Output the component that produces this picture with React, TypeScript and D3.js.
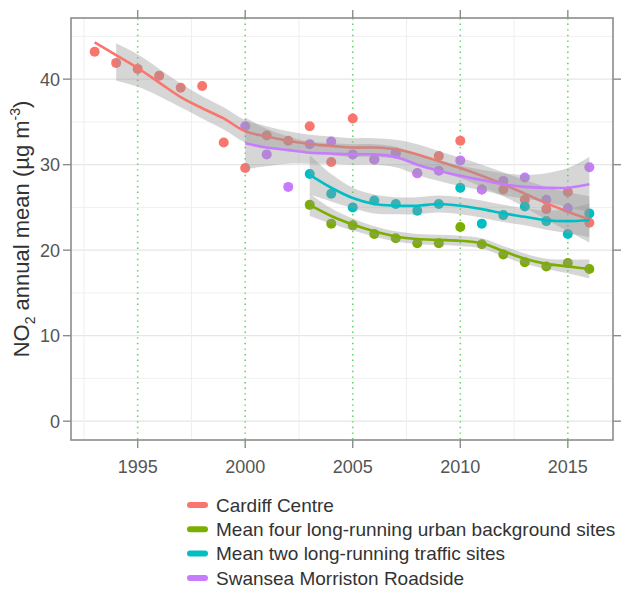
import React from "react";
import * as d3 from "d3";

// ---------- data ----------
const cardiffYears = [1993, 1994, 1995, 1996, 1997, 1998, 1999, 2000, 2001, 2002, 2003, 2004, 2005, 2006, 2007, 2008, 2009, 2010, 2011, 2012, 2013, 2014, 2015, 2016];
const cardiffNO2 = [43.2, 41.9, 41.2, 40.4, 39.0, 39.2, 32.6, 29.6, 33.4, 32.8, 34.5, 30.3, 35.4, 30.6, 31.4, 29.0, 31.0, 32.8, 27.1, 27.1, 25.9, 24.8, 26.8, 23.2];

const swanseaYears = [2000, 2001, 2002, 2003, 2004, 2005, 2006, 2007, 2008, 2009, 2010, 2011, 2012, 2013, 2014, 2015, 2016];
const swanseaNO2 = [34.5, 31.2, 27.4, 32.4, 32.7, 31.2, 30.6, 31.3, 29.0, 29.3, 30.5, 27.1, 28.1, 28.5, 25.9, 24.9, 29.7];

const meanYears = [2003, 2004, 2005, 2006, 2007, 2008, 2009, 2010, 2011, 2012, 2013, 2014, 2015, 2016];
const trafficNO2 = [28.9, 26.6, 25.0, 25.8, 25.4, 24.6, 25.4, 27.3, 23.1, 24.1, 25.1, 23.4, 21.9, 24.3];
const backgroundNO2 = [25.3, 23.1, 22.9, 21.9, 21.4, 20.8, 20.8, 22.7, 20.7, 19.5, 18.6, 18.1, 18.5, 17.8];

// smoothed fits (loess) and half-widths of the confidence bands
const cardiffFit = [44.3, 42.8, 41.3, 39.6, 37.9, 36.6, 35.4, 33.9, 33.3, 32.8, 32.4, 32.2, 32.0, 32.0, 31.8, 31.2, 30.4, 29.6, 28.7, 27.7, 26.6, 25.5, 24.5, 23.6];
const cardiffBandYears = [1994, 1995, 1996, 1997, 1998, 1999, 2000, 2001, 2002, 2003, 2004, 2005, 2006, 2007, 2008, 2009, 2010, 2011, 2012, 2013, 2014, 2015, 2016];
const cardiffBandFit = [42.0, 41.0, 39.6, 38.1, 36.7, 35.4, 33.9, 33.3, 32.8, 32.4, 32.2, 32.0, 32.0, 31.8, 31.2, 30.4, 29.6, 28.7, 27.7, 26.6, 25.5, 24.5, 23.6];
const cardiffSE = [2.2, 1.9, 1.6, 1.4, 1.3, 1.3, 1.3, 1.2, 1.1, 1.1, 1.1, 1.1, 1.1, 1.1, 1.2, 1.2, 1.2, 1.3, 1.4, 1.6, 1.9, 2.3, 2.7];

const swanseaFit = [32.5, 32.0, 31.7, 31.4, 31.3, 31.2, 31.2, 30.9, 30.0, 29.3, 28.7, 28.2, 27.7, 27.4, 27.3, 27.3, 27.7];
const swanseaSE = [3.0, 2.2, 1.6, 1.3, 1.2, 1.2, 1.2, 1.2, 1.2, 1.2, 1.2, 1.2, 1.3, 1.4, 1.7, 2.3, 3.2];

const trafficFit = [28.8, 27.3, 26.1, 25.4, 25.2, 25.2, 25.4, 25.2, 24.8, 24.3, 23.9, 23.5, 23.4, 23.5];
const trafficSE = [2.3, 1.6, 1.2, 1.1, 1.0, 1.0, 1.0, 1.0, 1.0, 1.0, 1.0, 1.1, 1.4, 2.0];

const backgroundFit = [25.3, 24.0, 23.0, 22.2, 21.6, 21.3, 21.2, 21.1, 20.8, 19.9, 19.0, 18.4, 18.1, 17.8];
const backgroundSE = [1.3, 0.9, 0.7, 0.6, 0.6, 0.6, 0.6, 0.6, 0.6, 0.6, 0.6, 0.6, 0.8, 1.1];

const xTicks = [1995, 2000, 2005, 2010, 2015];
const xMinor = [1992.5, 1997.5, 2002.5, 2007.5, 2012.5, 2017.5];
const yTicks = [0, 10, 20, 30, 40];
const yMinor = [5, 15, 25, 35, 45];

const seriesNames = [
  "Cardiff Centre",
  "Mean four long-running urban background sites",
  "Mean two long-running traffic sites",
  "Swansea Morriston Roadside",
];
const seriesColors = ["#F8766D", "#7CAE00", "#00BFC4", "#C77CFF"];

// ---------- layout ----------
const W = 625;
const H = 589;
const left = 71;
const right = 613;
const top = 18;
const bottom = 440;

const x = d3.scaleLinear().domain([1991.9, 2017.1]).range([left, right]);
const y = d3.scaleLinear().domain([-2.2, 47.15]).range([bottom, top]);

const font = "'Liberation Sans', Arial, Helvetica, sans-serif";

type P = { x: number; y: number };
const zip = (xs: number[], ys: number[]): P[] => xs.map((v, i) => ({ x: v, y: ys[i] }));

const lineGen = d3
  .line<P>()
  .x((d) => x(d.x))
  .y((d) => y(d.y))
  .curve(d3.curveCatmullRom.alpha(0.5));

type B = { x: number; lo: number; hi: number };
const areaGen = d3
  .area<B>()
  .x((d) => x(d.x))
  .y0((d) => y(d.lo))
  .y1((d) => y(d.hi))
  .curve(d3.curveCatmullRom.alpha(0.5));
const band = (xs: number[], fit: number[], se: number[]): B[] =>
  xs.map((v, i) => ({ x: v, lo: fit[i] - se[i], hi: fit[i] + se[i] }));

const points = [
  { data: zip(cardiffYears, cardiffNO2), color: seriesColors[0] },
  { data: zip(meanYears, backgroundNO2), color: seriesColors[1] },
  { data: zip(meanYears, trafficNO2), color: seriesColors[2] },
  { data: zip(swanseaYears, swanseaNO2), color: seriesColors[3] },
];

const smooths = [
  { line: zip(cardiffYears, cardiffFit), band: band(cardiffBandYears, cardiffBandFit, cardiffSE), color: seriesColors[0] },
  { line: zip(meanYears, backgroundFit), band: band(meanYears, backgroundFit, backgroundSE), color: seriesColors[1] },
  { line: zip(meanYears, trafficFit), band: band(meanYears, trafficFit, trafficSE), color: seriesColors[2] },
  { line: zip(swanseaYears, swanseaFit), band: band(swanseaYears, swanseaFit, swanseaSE), color: seriesColors[3] },
];

export default function App() {
  const axisColor = "#8c8c8c";
  const tickLen = 8;
  return (
    <svg
      width={W}
      height={H}
      viewBox={`0 0 ${W} ${H}`}
      style={{ position: "absolute", left: 0, top: 0, background: "#fff" }}
    >
      <rect x={0} y={0} width={W} height={H} fill="#fff" />
      <defs>
        <clipPath id="panel">
          <rect x={left} y={top} width={right - left} height={bottom - top} />
        </clipPath>
      </defs>
      {/* grid */}
      <g>
        {yMinor.map((v) => (
          <line key={"ym" + v} x1={left} x2={right} y1={y(v)} y2={y(v)} stroke="#f0f0f0" strokeWidth={1} />
        ))}
        {yTicks.map((v) => (
          <line key={"yg" + v} x1={left} x2={right} y1={y(v)} y2={y(v)} stroke="#e6e6e6" strokeWidth={1.2} />
        ))}
        {xMinor
          .filter((v) => x(v) > left && x(v) < right)
          .map((v) => (
            <line key={"xm" + v} x1={x(v)} x2={x(v)} y1={top} y2={bottom} stroke="#eeeeee" strokeWidth={1} />
          ))}
        {xTicks.map((v) => (
          <line
            key={"xg" + v}
            x1={x(v)}
            x2={x(v)}
            y1={top}
            y2={bottom}
            stroke="#5fd65f"
            strokeWidth={1.6}
            strokeDasharray="1.4 4.2"
          />
        ))}
      </g>
      <g clipPath="url(#panel)">
        {points.map((s, i) => (
          <g key={"p" + i}>
            {s.data.map((d, j) => (
              <circle key={j} cx={x(d.x)} cy={y(d.y)} r={5} fill={s.color} />
            ))}
          </g>
        ))}
        {smooths.map((s, i) => (
          <g key={"s" + i}>
            <path d={areaGen(s.band) || ""} fill="#999999" fillOpacity={0.4} stroke="none" />
            <path d={lineGen(s.line) || ""} fill="none" stroke={s.color} strokeWidth={2.6} />
          </g>
        ))}
      </g>
      {/* panel border */}
      <rect x={left} y={top} width={right - left} height={bottom - top} fill="none" stroke={axisColor} strokeWidth={1.6} />
      {/* ticks */}
      {xTicks.map((v) => (
        <g key={"xt" + v}>
          <line x1={x(v)} x2={x(v)} y1={bottom} y2={bottom + tickLen} stroke={axisColor} strokeWidth={1.4} />
          <line x1={x(v)} x2={x(v)} y1={top} y2={top - tickLen} stroke={axisColor} strokeWidth={1.4} />
          <text
            x={x(v)}
            y={bottom + 33}
            textAnchor="middle"
            fontFamily={font}
            fontSize={18}
            fill="#555"
          >
            {v}
          </text>
        </g>
      ))}
      {yTicks.map((v) => (
        <g key={"yt" + v}>
          <line x1={left} x2={left - tickLen} y1={y(v)} y2={y(v)} stroke={axisColor} strokeWidth={1.4} />
          <line x1={right} x2={right + tickLen} y1={y(v)} y2={y(v)} stroke={axisColor} strokeWidth={1.4} />
          <text
            x={left - 11}
            y={y(v)}
            dy="0.36em"
            textAnchor="end"
            fontFamily={font}
            fontSize={18}
            fill="#555"
          >
            {v}
          </text>
        </g>
      ))}
      {/* y title */}
      <text
        transform={`translate(29,${(top + bottom) / 2}) rotate(-90)`}
        textAnchor="middle"
        fontFamily={font}
        fontSize={22}
        fill="#333"
      >
        NO
        <tspan fontSize={14} dy={6}>
          2
        </tspan>
        <tspan dy={-6}> annual mean (µg m</tspan>
        <tspan fontSize={14} dy={-9}>
          -3
        </tspan>
        <tspan dy={9}>)</tspan>
      </text>
      {/* legend */}
      {seriesNames.map((name, i) => {
        const ly = 505 + i * 24.3;
        return (
          <g key={"lg" + i}>
            <line
              x1={190}
              x2={205}
              y1={ly}
              y2={ly}
              stroke={seriesColors[i]}
              strokeWidth={6}
              strokeLinecap="round"
            />
            <text x={216} y={ly} dy="0.36em" fontFamily={font} fontSize={19} fill="#333">
              {name}
            </text>
          </g>
        );
      })}
    </svg>
  );
}
